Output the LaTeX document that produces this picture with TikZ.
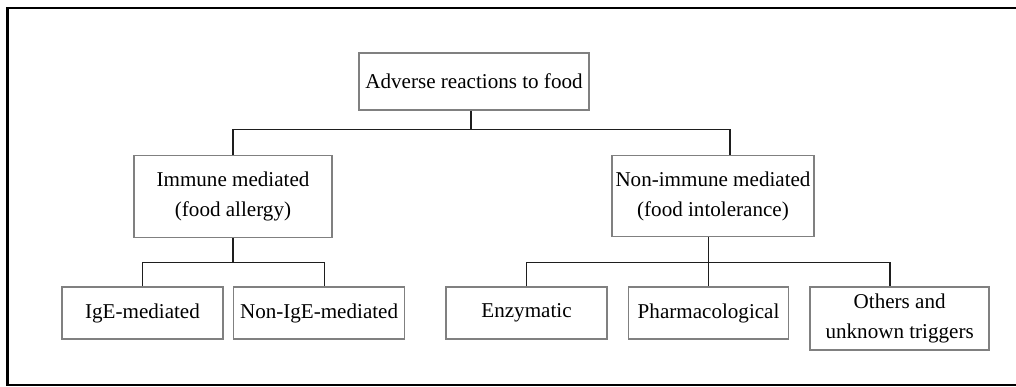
\documentclass[tikz,border=0pt]{standalone}
\usepackage{fontspec}
\setmainfont{Liberation Serif}
\usepackage{xcolor}
\usetikzlibrary{positioning}
\definecolor{boxgray}{RGB}{128,128,128}
\definecolor{linkdark}{RGB}{30,30,30}
\tikzset{
  catbox/.style={
    rectangle, draw=boxgray, line width=0.9pt, align=center,
    inner sep=1.5pt, minimum height=1.04cm,
    font=\fontsize{12}{17}\selectfont, text=black
  },
  link/.style={draw=linkdark, line width=0.8pt},
  frame/.style={draw=black, line width=1.5pt}
}

\begin{document}
\begin{tikzpicture}
  \useasboundingbox (0,0) rectangle (20.32,-7.74);
  % Outer frame (open on the right)
  \draw[frame] (20.6,-0.16) -- (0.15,-0.16) -- (0.15,-7.70) -- (20.6,-7.70);

  % Root
  \node[catbox, minimum width=4.6cm, minimum height=1.14cm] (root) at (9.48,-1.63)
    {Adverse reactions to food};

  % Second level
  \node[catbox, below=0.88cm of root, xshift=-4.82cm, minimum width=3.96cm,
        minimum height=1.64cm] (immune)
    {Immune mediated\\(food allergy)};
  \node[catbox, below=0.88cm of root, xshift=4.78cm, minimum width=4.04cm,
        minimum height=1.62cm] (nonimm)
    {Non-immune mediated\\(food intolerance)};

  % Third level
  \node[catbox, below=0.96cm of immune, xshift=-1.81cm, minimum width=3.22cm] (ige)
    {IgE-mediated};
  \node[catbox, right=0.18cm of ige, minimum width=3.42cm] (nonige)
    {Non-IgE-mediated};
  \node[catbox, below=0.98cm of nonimm, xshift=-3.73cm, minimum width=3.22cm] (enz)
    {Enzymatic};
  \node[catbox, right=0.4cm of enz, minimum width=3.2cm] (pharm)
    {Pharmacological};
  \node[catbox, below right=0cm and 0.4cm of pharm.north east, minimum width=3.58cm,
        minimum height=1.26cm] (others)
    {Others and\\unknown triggers};

  % Links
  \draw[link] ([xshift=-0.06cm]root.south) -- ++(0,-0.38) coordinate (bus1);
  \draw[link] (immune.north) |- (bus1) -| ([xshift=0.34cm]nonimm.north);
  \draw[link] (immune.south) -- ++(0,-0.48) coordinate (bus2);
  \draw[link] (ige.north) |- (bus2) -| ([xshift=0.11cm]nonige.north);
  \draw[link] (pharm.north |- nonimm.south) -- (pharm.north);
  \coordinate (bus3) at ([yshift=0.48cm]pharm.north);
  \draw[link] (enz.north) |- (bus3) -| ([xshift=-0.19cm]others.north);
\end{tikzpicture}
\end{document}
